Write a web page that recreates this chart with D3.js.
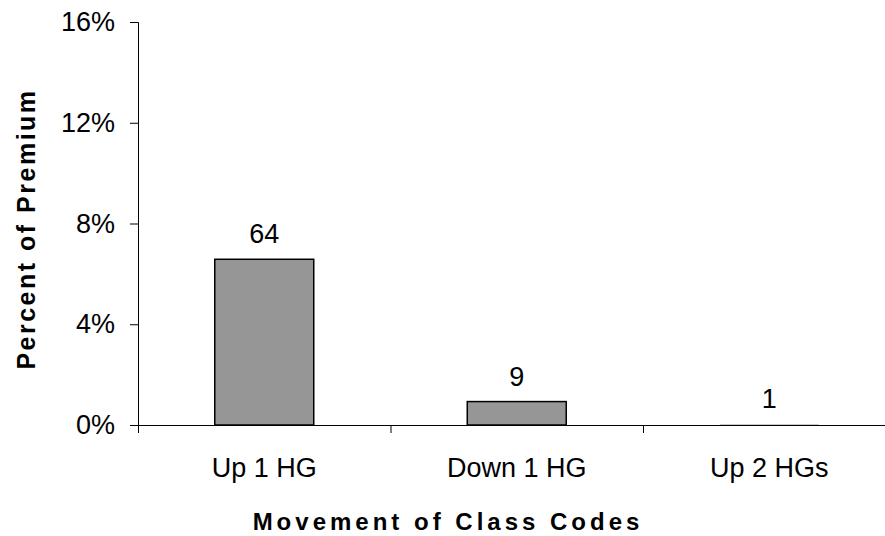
<!DOCTYPE html>
<html>
<head>
<meta charset="utf-8">
<script src="https://cdn.jsdelivr.net/npm/d3@7"></script>
<style>
  body { margin: 0; background: #fff; }
  svg { display: block; font-family: "Liberation Sans", Arial, sans-serif; }
</style>
</head>
<body>
<script>
// chart data
const categories = ["Up 1 HG", "Down 1 HG", "Up 2 HGs"];
const premiumShare = [0.0658, 0.0093, 0.0002];
const counts = [64, 9, 1];
const yTicks = [0, 0.04, 0.08, 0.12, 0.16];

const w = 885;
const h = 536;
const margin = { top: 22, left: 138, bottom: 111 };
const plotW = 757.5;
const plotH = h - margin.top - margin.bottom;

const svg = d3.select("body")
        .append("svg")
        .attr("width", w)
        .attr("height", h);

const g = svg.append("g")
        .attr("transform", `translate(${margin.left},${margin.top})`);

const y = d3.scaleLinear()
        .domain([0, 0.16])
        .range([plotH, 0]);

const x = d3.scaleBand()
        .domain(categories)
        .range([0, plotW])
        .paddingInner(0.608)
        .paddingOuter(0.304);

// category edges for the tick marks
const xEdge = d3.scaleLinear()
        .domain([0, categories.length])
        .range([0, plotW]);

// bars
g.selectAll("rect.bar")
        .data(premiumShare)
        .enter()
        .append("rect")
        .attr("class", "bar")
        .attr("x", (d, i) => x(categories[i]))
        .attr("y", d => y(d))
        .attr("width", x.bandwidth())
        .attr("height", d => plotH - y(d))
        .attr("fill", "#969696")
        .attr("stroke", "#000")
        .attr("stroke-width", d => y(0) - y(d) < 2 ? 0 : 1.5);

// count labels
g.selectAll("text.count")
        .data(premiumShare)
        .enter()
        .append("text")
        .attr("class", "count")
        .attr("x", (d, i) => x(categories[i]) + x.bandwidth() / 2)
        .attr("y", d => y(d) - 16)
        .attr("text-anchor", "middle")
        .style("font-size", "27px")
        .text((d, i) => counts[i]);

// y axis
const yAxisG = g.append("g")
        .call(d3.axisLeft(y)
                .tickValues(yTicks)
                .tickSize(8)
                .tickPadding(15)
                .tickFormat(d3.format(".0%")));
yAxisG.select(".domain").attr("stroke", "#000");
yAxisG.selectAll("text")
        .style("font-size", "27px")
        .attr("fill", "#000");

// x axis (edge ticks below the line)
const xAxisG = g.append("g")
        .attr("transform", `translate(0,${plotH})`)
        .call(d3.axisBottom(xEdge)
                .tickValues([0, 1, 2, 3])
                .tickSize(8)
                .tickSizeOuter(0)
                .tickFormat(""));
xAxisG.select(".domain").attr("stroke", "#000");

// category labels
g.append("g")
        .attr("transform", `translate(0,${plotH})`)
        .call(d3.axisBottom(x).tickSize(0).tickPadding(33))
        .call(a => a.select(".domain").remove())
        .selectAll("text")
        .style("font-size", "27px")
        .attr("fill", "#000");

// axis titles
svg.append("text")
        .attr("x", 448)
        .attr("y", 530)
        .attr("text-anchor", "middle")
        .style("font-size", "24px")
        .style("font-weight", "bold")
        .style("letter-spacing", "4px")
        .text("Movement of Class Codes");

svg.append("text")
        .attr("transform", "rotate(-90)")
        .attr("x", -229)
        .attr("y", 35)
        .attr("text-anchor", "middle")
        .style("font-size", "25px")
        .style("font-weight", "bold")
        .style("letter-spacing", "2.5px")
        .text("Percent of Premium");
</script>
</body>
</html>
